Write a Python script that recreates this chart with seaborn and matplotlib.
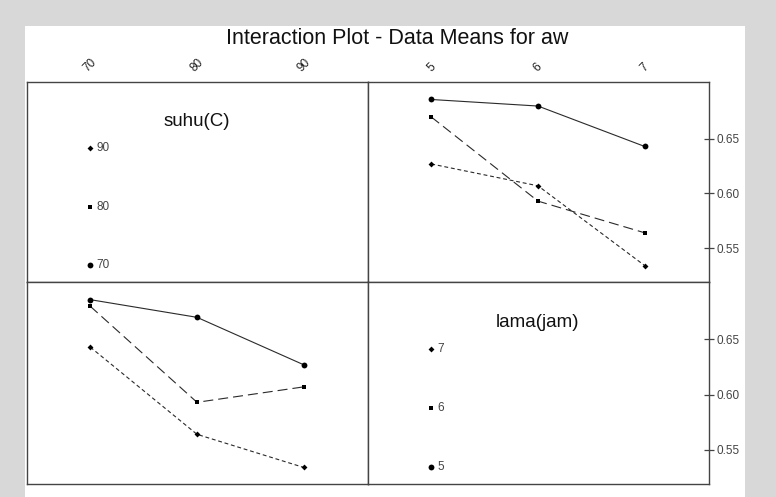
import numpy as np
import pandas as pd
import matplotlib
matplotlib.use("Agg")
import matplotlib.pyplot as plt
from matplotlib.patches import Rectangle
import seaborn as sns

# ---- data (cell means of aw) ----
suhu_levels = ["70", "80", "90"]
lama_levels = ["5", "6", "7"]
aw_suhu70 = [0.686, 0.680, 0.643]   # lama 5, 6, 7
aw_suhu80 = [0.670, 0.593, 0.564]
aw_suhu90 = [0.627, 0.607, 0.534]
y_ticks = [0.55, 0.60, 0.65]
title_text = "Interaction Plot - Data Means for aw"

rows = []
for s, vals in zip(suhu_levels, [aw_suhu70, aw_suhu80, aw_suhu90]):
    for l, v in zip(lama_levels, vals):
        rows.append({"suhu": s, "lama": l, "suhu_x": int(s), "lama_x": int(l), "aw": v})
df = pd.DataFrame(rows)

sns.set_theme(style="white")
plt.rcParams["font.family"] = ["Liberation Sans", "DejaVu Sans"]

fig = plt.figure(figsize=(7.76, 4.97), dpi=100)
fig.patch.set_facecolor("#d8d8d8")
fig.patches.append(Rectangle((25 / 776, 0), 720 / 776, (497 - 26) / 497,
                             transform=fig.transFigure, facecolor="white",
                             edgecolor="none", zorder=-10))

W, H = 776, 497
def axrect(x0, y0, x1, y1):
    return [x0 / W, 1 - y1 / H, (x1 - x0) / W, (y1 - y0) / H]

ax_tl = fig.add_axes(axrect(27.3, 82, 368.3, 282))
ax_tr = fig.add_axes(axrect(368.3, 82, 709.3, 282))
ax_bl = fig.add_axes(axrect(27.3, 282, 368.3, 484))
ax_br = fig.add_axes(axrect(368.3, 282, 709.3, 484))

markers = ["o", "s", "D"]
msizes = [4.2, 3.0, 3.0]
dashes = ["", (9, 4.5), (3.5, 2.5)]
lw = 0.8
ylim = (0.519, 0.702)

def style_axes(ax):
    ax.set_facecolor("white")
    for sp in ax.spines.values():
        sp.set_visible(True)
        sp.set_color("#444444")
        sp.set_linewidth(1.0)
    ax.set_xlabel("")
    ax.set_ylabel("")

# top-right: x = lama, lines by suhu
sns.lineplot(data=df, x="lama_x", y="aw", style="suhu", style_order=suhu_levels,
             markers=dict(zip(suhu_levels, markers)),
             dashes=dict(zip(suhu_levels, dashes)),
             color="black", linewidth=lw, errorbar=None, legend=False,
             markeredgewidth=0, ax=ax_tr)
# bottom-left: x = suhu, lines by lama
sns.lineplot(data=df, x="suhu_x", y="aw", style="lama", style_order=lama_levels,
             markers=dict(zip(lama_levels, markers)),
             dashes=dict(zip(lama_levels, dashes)),
             color="black", linewidth=lw, errorbar=None, legend=False,
             markeredgewidth=0, ax=ax_bl)

for ax in (ax_tr, ax_bl):
    for ln, ms in zip(ax.lines, msizes):
        ln.set_markersize(ms)
        ln.set_color("#2a2a2a")
        ln.set_markerfacecolor("black")
        ln.set_markeredgecolor("black")

for ax in (ax_tl, ax_tr, ax_bl, ax_br):
    style_axes(ax)
    ax.set_ylim(*ylim)

ax_tl.set_xlim(64.1, 96.05)
ax_bl.set_xlim(64.1, 96.05)
ax_tr.set_xlim(4.41, 7.605)
ax_br.set_xlim(4.41, 7.605)

# ticks
for ax in (ax_tl, ax_bl):
    ax.set_yticks([])
for ax in (ax_tr, ax_br):
    ax.yaxis.tick_right()
    ax.set_yticks(y_ticks)
    ax.set_yticklabels([f"{v:.2f}" for v in y_ticks])
    ax.tick_params(axis="y", direction="inout", length=7, width=0.9,
                   color="#444444", labelsize=8.5, labelcolor="#444444", pad=2, right=True)

ax_bl.set_xticks([])
ax_br.set_xticks([])
ax_tl.xaxis.tick_top()
ax_tr.xaxis.tick_top()
ax_tl.set_xticks([int(s) for s in suhu_levels])
ax_tl.set_xticklabels(suhu_levels, rotation=45)
ax_tr.set_xticks([int(l) for l in lama_levels])
ax_tr.set_xticklabels(lama_levels, rotation=45)
for ax in (ax_tl, ax_tr):
    ax.tick_params(axis="x", top=True, length=0, pad=6, labelsize=8.5, labelcolor="#222222")

# legend panels
def legend_panel(ax, title, labels):
    ax.text(0.497, 0.80, title, transform=ax.transAxes, ha="center", va="center",
            fontsize=13.5, color="#111111")
    ys = [0.085, 0.375, 0.668]
    for lab, mk, ms, y in zip(labels, markers, msizes, ys):
        ax.plot([0.184], [y], marker=mk, ms=ms, color="black", mew=0,
                transform=ax.transAxes, clip_on=False)
        ax.text(0.203, y, lab, transform=ax.transAxes, ha="left", va="center",
                fontsize=8.5, color="#444444")

legend_panel(ax_tl, "suhu(C)", suhu_levels)
legend_panel(ax_br, "lama(jam)", lama_levels)

fig.text(397 / W, 1 - 38 / H, title_text, ha="center", va="center",
         fontsize=15.5, color="#111111")

fig.savefig("out.png", dpi=100, facecolor=fig.get_facecolor())
